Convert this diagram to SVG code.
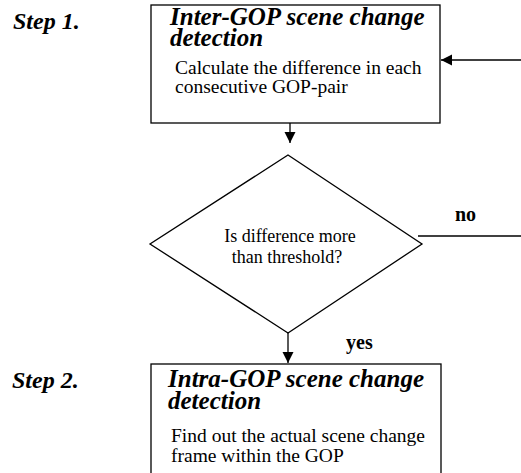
<svg xmlns="http://www.w3.org/2000/svg" width="521" height="473" viewBox="0 0 521 473">
<style>
.box{fill:#fff;stroke:#000;stroke-width:1.3}
.line{fill:none;stroke:#000;stroke-width:1.3}
text{font-family:"Liberation Serif","Times New Roman",Times,"DejaVu Serif",serif;fill:#000}
.step{font-weight:bold;font-style:italic;font-size:24px}
.title{font-weight:bold;font-style:italic;font-size:25px}
.body{font-size:19.5px}
.q{font-size:18px}
.lbl{font-weight:bold;font-size:20px}
</style>
<defs>
<marker id="ah" markerWidth="12" markerHeight="12" refX="11" refY="6" orient="auto" markerUnits="userSpaceOnUse">
<path d="M0,0.5 L11,6 L0,11.5 Z" fill="#000"/>
</marker>
</defs>
<text class="step" x="13" y="29">Step 1.</text>
<text class="step" x="12" y="388">Step 2.</text>
<g id="step1">
<rect class="box" x="151" y="5" width="289" height="118"/>
<text class="title" x="170" y="25">Inter-GOP scene change</text>
<text class="title" x="170" y="46">detection</text>
<text class="body" x="175" y="74">Calculate the difference in each</text>
<text class="body" x="175" y="93">consecutive GOP-pair</text>
</g>
<g id="decision">
<polygon class="box" points="288,155 422,244 288,333 150,244"/>
<text class="q" x="290" y="242" text-anchor="middle">Is difference more</text>
<text class="q" x="287" y="263" text-anchor="middle">than threshold?</text>
</g>
<g id="step2">
<rect class="box" x="151" y="364" width="290" height="120"/>
<text class="title" x="168" y="387">Intra-GOP scene change</text>
<text class="title" x="168" y="409">detection</text>
<text class="body" x="171" y="442">Find out the actual scene change</text>
<text class="body" x="171" y="462">frame within the GOP</text>
</g>
<g id="connectors">
<line class="line" x1="290" y1="123" x2="290" y2="143" marker-end="url(#ah)"/>
<line class="line" x1="288" y1="333" x2="288" y2="363" marker-end="url(#ah)"/>
<line class="line" x1="521" y1="60" x2="441" y2="60" marker-end="url(#ah)"/>
<line class="line" x1="418" y1="236" x2="521" y2="236"/>
<text class="lbl" x="455" y="221">no</text>
<text class="lbl" x="346" y="349">yes</text>
</g>
</svg>
